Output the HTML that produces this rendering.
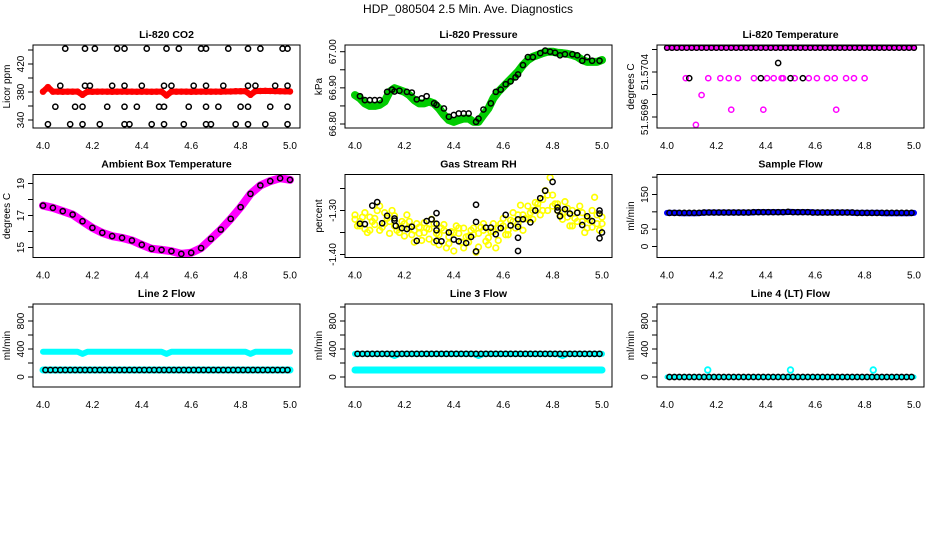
<!DOCTYPE html>
<html><head><meta charset="utf-8"><style>
html,body{margin:0;padding:0;background:#fff;}
svg{display:block;font-family:"Liberation Sans",Arial,sans-serif;}
</style></head><body>
<svg id="fig" width="936" height="540" viewBox="0 0 936 540" xmlns="http://www.w3.org/2000/svg">
<rect width="936" height="540" fill="#fff"/>
<text x="468" y="13" text-anchor="middle" font-size="12">HDP_080504  2.5 Min. Ave. Diagnostics</text>
</svg>
<script>
// ---------- data ----------
const tDense = [4.00,4.02,4.04,4.06,4.08,4.10,4.12,4.14,4.16,4.18,4.20,4.22,4.24,4.26,4.28,4.30,4.32,4.34,4.36,4.38,4.40,4.42,4.44,4.46,4.48,4.50,4.52,4.54,4.56,4.58,4.60,4.62,4.64,4.66,4.68,4.70,4.72,4.74,4.76,4.78,4.80,4.82,4.84,4.86,4.88,4.90,4.92,4.94,4.96,4.98,5.00];
const tDenseB = [4.01,4.03,4.05,4.07,4.09,4.11,4.13,4.15,4.17,4.19,4.21,4.23,4.25,4.27,4.29,4.31,4.33,4.35,4.37,4.39,4.41,4.43,4.45,4.47,4.49,4.51,4.53,4.55,4.57,4.59,4.61,4.63,4.65,4.67,4.69,4.71,4.73,4.75,4.77,4.79,4.81,4.83,4.85,4.87,4.89,4.91,4.93,4.95,4.97,4.99];
const xTickLabels = ["4.0","4.2","4.4","4.6","4.8","5.0"];

// CO2
const co2Red = [380.5,387,380.5,380.6,380.4,380.5,380.5,380.6,376,380.5,380.4,380.5,380.6,380.5,380.4,380.5,380.6,380.5,380.5,380.4,380.5,380.5,380.4,380.5,380.6,375,380.5,380.5,380.6,380.5,380.4,380.5,380.6,380.5,380.5,380.6,380.5,380.7,380.8,381,381,381.2,376,381.3,381.5,381.6,381.5,381.3,381.1,380.9,380.8];
const co2BlackX = [4.09,4.17,4.21,4.30,4.33,4.42,4.50,4.55,4.64,4.66,4.75,4.83,4.88,4.97,4.99, 4.07,4.17,4.19,4.28,4.33,4.40,4.49,4.52,4.61,4.66,4.73,4.83,4.86,4.94,4.99, 4.05,4.13,4.16,4.26,4.33,4.38,4.47,4.49,4.59,4.66,4.71,4.80,4.83,4.92,4.99, 4.02,4.11,4.16,4.23,4.33,4.35,4.44,4.49,4.57,4.66,4.68,4.78,4.83,4.90,4.99];
const co2BlackY = [442,442,442,442,442,442,442,442,442,442,442,442,442,442,442, 389,389,389,389,389,389,389,389,389,389,389,389,389,389,389, 359,359,359,359,359,359,359,359,359,359,359,359,359,359,359, 334,334,334,334,334,334,334,334,334,334,334,334,334,334,334];
const co2Ticks = [340,360,380,400,420,440];
const co2Labels = ["340","","380","","420",""];

// Pressure
const presGreen = [66.880,66.871,66.857,66.850,66.850,66.853,66.862,66.889,66.899,66.894,66.889,66.880,66.866,66.857,66.857,66.862,66.857,66.843,66.825,66.811,66.806,66.811,66.815,66.815,66.806,66.806,66.825,66.843,66.871,66.889,66.903,66.917,66.931,66.945,66.963,66.977,66.986,66.991,66.996,67.000,67.000,66.997,66.996,66.994,66.991,66.986,66.977,66.972,66.972,66.972,66.977];
const presBlackX = [4.02,4.04,4.06,4.08,4.10,4.13,4.15,4.16,4.18,4.21,4.23,4.25,4.27,4.29,4.32,4.33,4.36,4.38,4.40,4.42,4.44,4.46,4.49,4.50,4.52,4.55,4.57,4.59,4.61,4.63,4.65,4.66,4.68,4.70,4.72,4.75,4.77,4.79,4.81,4.83,4.85,4.88,4.90,4.92,4.94,4.96,4.99];
const presBlackY = [66.877,66.866,66.866,66.866,66.866,66.889,66.895,66.890,66.892,66.889,66.887,66.868,66.871,66.877,66.857,66.853,66.843,66.820,66.825,66.829,66.829,66.829,66.806,66.815,66.840,66.857,66.889,66.895,66.910,66.918,66.929,66.937,66.963,66.985,66.985,66.996,67.003,67.000,66.997,66.990,66.993,66.993,66.990,66.975,66.985,66.975,66.975];
const presTicks = [66.80,66.85,66.90,66.95,67.00];
const presLabels = ["66.80","","66.90","","67.00"];

// Li-820 temperature
const tempTopX = [4.00,4.02,4.04,4.06,4.08,4.10,4.12,4.14,4.16,4.18,4.20,4.22,4.24,4.26,4.28,4.30,4.32,4.34,4.36,4.38,4.40,4.42,4.44,4.46,4.48,4.50,4.52,4.54,4.56,4.58,4.60,4.62,4.64,4.66,4.68,4.70,4.72,4.74,4.76,4.78,4.80,4.82,4.84,4.86,4.88,4.90,4.92,4.94,4.96,4.98,5.00];
const tempTopY = [51.57083,51.57083,51.57083,51.57083,51.57083,51.57083,51.57083,51.57083,51.57083,51.57083,51.57083,51.57083,51.57083,51.57083,51.57083,51.57083,51.57083,51.57083,51.57083,51.57083,51.57083,51.57083,51.57083,51.57083,51.57083,51.57083,51.57083,51.57083,51.57083,51.57083,51.57083,51.57083,51.57083,51.57083,51.57083,51.57083,51.57083,51.57083,51.57083,51.57083,51.57083,51.57083,51.57083,51.57083,51.57083,51.57083,51.57083,51.57083,51.57083,51.57083,51.57083];
const tempMagX = [4.076,4.167,4.216,4.25,4.287,4.352,4.405,4.432,4.464,4.47,4.517,4.574,4.607,4.648,4.679,4.725,4.757,4.80, 4.14, 4.26,4.39,4.685, 4.117];
const tempMagY = [51.57029,51.57029,51.57029,51.57029,51.57029,51.57029,51.57029,51.57029,51.57029,51.57029,51.57029,51.57029,51.57029,51.57029,51.57029,51.57029,51.57029,51.57029, 51.56999, 51.56973,51.56973,51.56973, 51.56946];
const tempBlackX = [4.09,4.38,4.50,4.55,4.45];
const tempBlackY = [51.57029,51.57029,51.57029,51.57029,51.57056];
const tempTicks = [51.5696,51.5700,51.5704,51.5708];
const tempLabels = ["51.5696","","51.5704",""];

// Ambient box temperature
const ambX = [4.00,4.04,4.08,4.12,4.16,4.20,4.24,4.28,4.32,4.36,4.40,4.44,4.48,4.52,4.56,4.60,4.64,4.68,4.72,4.76,4.80,4.84,4.88,4.92,4.96,5.00];
const ambY = [17.62,17.48,17.27,17.06,16.64,16.23,15.92,15.71,15.60,15.44,15.17,14.92,14.85,14.77,14.60,14.67,14.96,15.54,16.12,16.79,17.52,18.35,18.88,19.15,19.33,19.23];
const ambTicks = [15,16,17,18,19];
const ambLabels = ["15","","17","","19"];

// Gas stream RH
const rhA = [-1.320,-1.335,-1.305,-1.345,-1.318,-1.290,-1.330,-1.352,-1.312,-1.340,-1.358,-1.325,-1.372,-1.338,-1.350,-1.365,-1.330,-1.378,-1.345,-1.360,-1.392,-1.352,-1.340,-1.372,-1.355,-1.383,-1.345,-1.362,-1.330,-1.368,-1.318,-1.345,-1.305,-1.330,-1.310,-1.290,-1.320,-1.295,-1.275,-1.300,-1.265,-1.300,-1.320,-1.295,-1.335,-1.305,-1.325,-1.340,-1.300,-1.330,-1.315];
const rhB = [-1.335,-1.315,-1.350,-1.325,-1.300,-1.338,-1.318,-1.300,-1.345,-1.325,-1.310,-1.355,-1.330,-1.368,-1.340,-1.320,-1.352,-1.340,-1.385,-1.348,-1.335,-1.372,-1.360,-1.345,-1.395,-1.338,-1.370,-1.348,-1.385,-1.330,-1.355,-1.322,-1.340,-1.288,-1.318,-1.305,-1.282,-1.310,-1.255,-1.225,-1.285,-1.310,-1.280,-1.335,-1.318,-1.290,-1.350,-1.322,-1.270,-1.345];
const rhC = [-1.310,-1.325,-1.342,-1.315,-1.332,-1.345,-1.305,-1.325,-1.335,-1.350,-1.330,-1.340,-1.345,-1.352,-1.328,-1.342,-1.372,-1.355,-1.332,-1.375,-1.350,-1.340,-1.385,-1.358,-1.340,-1.352,-1.330,-1.378,-1.348,-1.340,-1.335,-1.355,-1.325,-1.310,-1.345,-1.320,-1.300,-1.285,-1.300,-1.265,-1.290,-1.285,-1.305,-1.315,-1.300,-1.325,-1.305,-1.318,-1.338,-1.310,-1.330];
const rhBlackX = [4.02,4.04,4.07,4.09,4.11,4.13,4.16,4.16,4.165,4.19,4.21,4.23,4.25,4.29,4.31,4.33,4.33,4.33,4.33,4.35,4.38,4.40,4.42,4.45,4.47,4.49,4.49,4.49,4.53,4.55,4.57,4.59,4.61,4.63,4.66,4.66,4.66,4.66,4.68,4.71,4.73,4.75,4.77,4.80,4.82,4.82,4.83,4.85,4.87,4.90,4.92,4.94,4.96,4.99,4.99,5.00,4.99];
const rhBlackY = [-1.330,-1.331,-1.289,-1.281,-1.329,-1.312,-1.318,-1.323,-1.335,-1.340,-1.342,-1.337,-1.369,-1.324,-1.320,-1.306,-1.330,-1.345,-1.369,-1.370,-1.350,-1.366,-1.370,-1.374,-1.360,-1.287,-1.326,-1.393,-1.339,-1.339,-1.354,-1.340,-1.310,-1.334,-1.320,-1.337,-1.362,-1.392,-1.320,-1.327,-1.300,-1.272,-1.255,-1.235,-1.293,-1.300,-1.313,-1.297,-1.307,-1.305,-1.333,-1.313,-1.324,-1.300,-1.307,-1.350,-1.363];
const rhTicks = [-1.40,-1.35,-1.30,-1.25];
const rhLabels = ["-1.40","","-1.30",""];

// Sample flow
const sfBlue = [97,97,97,96,96,96,96,97,98,98,98,98,98,98,98,98,98,98,99,99,99,99,99,99,99,100,99,99,99,99,98,98,98,98,98,98,98,98,97,97,97,97,97,97,96,96,96,96,96,96,97];
const sfBlack = [97,97,97,97,97,97,97,98,98,98,98,98,98,98,98,98,98,99,99,99,99,99,99,99,100,99,99,99,99,98,98,98,98,98,98,98,98,98,97,97,97,97,97,97,97,97,97,97,97,97];
const sfTicks = [0,50,100,150,200];
const sfLabels = ["0","50","","150",""];

// Flow lines
const l2Upper = [360,360,360,360,360,360,360,360,330,360,360,360,360,360,360,360,360,360,360,360,360,360,360,360,360,330,360,360,360,360,360,360,360,360,360,360,360,360,360,360,360,360,330,360,360,360,360,360,360,360,360];
const l2Lower = [100,100,100,100,100,100,100,100,100,100,100,100,100,100,100,100,100,100,100,100,100,100,100,100,100,100,100,100,100,100,100,100,100,100,100,100,100,100,100,100,100,100,100,100,100,100,100,100,100,100,100];
const l2Black = [100,100,100,100,100,100,100,100,100,100,100,100,100,100,100,100,100,100,100,100,100,100,100,100,100,100,100,100,100,100,100,100,100,100,100,100,100,100,100,100,100,100,100,100,100,100,100,100,100,100];
const l3Upper = [330,330,330,330,330,330,330,330,300,330,330,330,330,330,330,330,330,330,330,330,330,330,330,330,330,300,330,330,330,330,330,330,330,330,330,330,330,330,330,330,330,330,300,330,330,330,330,330,330,330,330];
const l3Lower = [100,100,100,100,100,100,100,100,100,100,100,100,100,100,100,100,100,100,100,100,100,100,100,100,100,100,100,100,100,100,100,100,100,100,100,100,100,100,100,100,100,100,100,100,100,100,100,100,100,100,100];
const l3Black = [330,330,330,330,330,330,330,330,330,330,330,330,330,330,330,330,330,330,330,330,330,330,330,330,330,330,330,330,330,330,330,330,330,330,330,330,330,330,330,330,330,330,330,330,330,330,330,330,330,330];
const l4Cyan = [0,0,0,0,0,0,0,0,0,0,0,0,0,0,0,0,0,0,0,0,0,0,0,0,0,0,0,0,0,0,0,0,0,0,0,0,0,0,0,0,0,0,0,0,0,0,0,0,0,0,0];
const l4SpikeX = [4.165,4.50,4.835];
const l4SpikeY = [100,100,100];
const l4Black = [0,0,0,0,0,0,0,0,0,0,0,0,0,0,0,0,0,0,0,0,0,0,0,0,0,0,0,0,0,0,0,0,0,0,0,0,0,0,0,0,0,0,0,0,0,0,0,0,0,0];
const flowTicks = [0,200,400,600,800,1000];
const flowLabels = ["0","","400","","800",""];

// ---------- drawing ----------
const NS = "http://www.w3.org/2000/svg";
const svg = document.getElementById('fig');
function mk(tag, parent){ const e = document.createElementNS(NS, tag); parent.appendChild(e); return e; }

function panel(name, col, row, title, ylabel, yRefA, yRefB, ticks, labels){
  const x0 = 33 + col*312, x1 = x0 + 267;
  const y0 = 45 + row*129.5, y1 = y0 + 83;
  const g = mk('g', svg);
  
  
  const xs = v => (x0 + 10) + (v - 4) * (x1 - x0 - 20);
  const ys = v => yRefA[1] + (v - yRefA[0]) * (yRefB[1] - yRefA[1]) / (yRefB[0] - yRefA[0]);
  const marks = mk('g', g);
  
  
  const box = mk('rect', g);
  
  
  box.setAttribute('x', x0); box.setAttribute('y', y0);
  box.setAttribute('width', x1 - x0); box.setAttribute('height', y1 - y0);
  box.setAttribute('fill', 'none'); box.setAttribute('stroke', '#000'); box.setAttribute('stroke-width', '1');
  const t = mk('text', g);
  
  
  t.setAttribute('x', (x0 + x1) / 2); t.setAttribute('y', y0 - 7);
  t.setAttribute('text-anchor', 'middle'); t.setAttribute('font-size', '10.5'); t.setAttribute('font-weight', 'bold');
  t.textContent = title;
  const yl = mk('text', g);
  
  
  const ylx = x0 - 23, yly = (y0 + y1) / 2;
  yl.setAttribute('transform', `translate(${ylx},${yly}) rotate(-90)`);
  yl.setAttribute('text-anchor', 'middle'); yl.setAttribute('font-size', '10');
  yl.textContent = ylabel;
  const xa = mk('g', g);
  
  
  xTickLabels.forEach(s => {
    const tx = mk('text', xa);
    
    
    tx.setAttribute('x', xs(parseFloat(s))); tx.setAttribute('y', y1 + 21);
    tx.setAttribute('text-anchor', 'middle'); tx.setAttribute('font-size', '10');
    tx.textContent = s;
  });
  const ya = mk('g', g);
  
  
  ticks.forEach((v, i) => {
    const py = ys(v);
    const tk = mk('line', ya);
    
    
    tk.setAttribute('x1', x0 - 5); tk.setAttribute('x2', x0); tk.setAttribute('y1', py); tk.setAttribute('y2', py);
    tk.setAttribute('stroke', '#000');
    if (labels[i]) {
      const tl = mk('text', ya);
      
      
      tl.setAttribute('transform', `translate(${x0 - 9},${py}) rotate(-90)`);
      tl.setAttribute('text-anchor', 'middle'); tl.setAttribute('font-size', '10');
      tl.textContent = labels[i];
    }
  });
  const clipId = 'clip-' + name;
  const cp = mk('clipPath', g); cp.setAttribute('id', clipId);
  const cr = mk('rect', cp);
  cr.setAttribute('x', x0); cr.setAttribute('y', y0); cr.setAttribute('width', x1 - x0); cr.setAttribute('height', y1 - y0);
  marks.setAttribute('clip-path', `url(#${clipId})`);
  return {
    pts(xArr, yArr, color, r, sw, pname){
      const sg = mk('g', marks);
      
      
      yArr.forEach((v, i) => {
        const c = mk('circle', sg);
        
        
        c.setAttribute('cx', xs(xArr[i])); c.setAttribute('cy', ys(v)); c.setAttribute('r', r);
        c.setAttribute('fill', 'none'); c.setAttribute('stroke', color); c.setAttribute('stroke-width', sw);
      });
    },
    band(xArr, yArr, color, w, pname){
      const p = mk('polyline', marks);
      
      
      p.setAttribute('points', yArr.map((v, i) => xs(xArr[i]) + ',' + ys(v)).join(' '));
      p.setAttribute('fill', 'none'); p.setAttribute('stroke', color); p.setAttribute('stroke-width', w);
      p.setAttribute('stroke-linejoin', 'round'); p.setAttribute('stroke-linecap', 'round');
    }
  };
}

const K = '#000', R = '#ff0000', G = '#00cc00', M = '#ff00ff', Y = '#ffff00', B = '#0000ff', C = '#00ffff';

let p = panel('co2', 0, 0, 'Li-820 CO2', 'Licor ppm', [340,120], [420,64], co2Ticks, co2Labels);
p.band(tDense, co2Red, R, 6, 'co2-red-band');
p.pts(tDense, co2Red, R, 2.5, 1.5, 'co2-red-series');
p.pts(co2BlackX, co2BlackY, K, 2.6, 1.5, 'co2-black-series');

p = panel('pressure', 1, 0, 'Li-820 Pressure', 'kPa', [66.80,124], [67.00,51.7], presTicks, presLabels);
p.band(tDense, presGreen, G, 8, 'pressure-green-band');
p.pts(tDense, presGreen, G, 2.5, 1.5, 'pressure-green-series');
p.pts(presBlackX, presBlackY, K, 2.6, 1.5, 'pressure-black-series');

p = panel('li820-temp', 2, 0, 'Li-820 Temperature', 'degrees C', [51.5696,117], [51.5704,72], tempTicks, tempLabels);
p.band(tempTopX, tempTopY, M, 5, 'temp-magenta-top-band');
p.pts(tempTopX, tempTopY, K, 2.5, 1.4, 'temp-black-top-series');
p.pts(tempMagX, tempMagY, M, 2.6, 1.5, 'temp-magenta-series');
p.pts(tempBlackX, tempBlackY, K, 2.6, 1.5, 'temp-black-series');

p = panel('ambient-temp', 0, 1, 'Ambient Box Temperature', 'degrees C', [15,247.5], [19,183.5], ambTicks, ambLabels);
p.band(ambX, ambY, M, 8, 'ambient-magenta-band');
p.pts(ambX, ambY, K, 2.6, 1.5, 'ambient-black-series');

p = panel('rh', 1, 1, 'Gas Stream RH', 'percent', [-1.40,254.5], [-1.30,210.5], rhTicks, rhLabels);
p.pts(tDense, rhA, Y, 2.8, 1.7, 'rh-yellow-series-a');
p.pts(tDenseB, rhB, Y, 2.8, 1.7, 'rh-yellow-series-b');
p.pts(tDense, rhC, Y, 2.8, 1.7, 'rh-yellow-series-c');
p.pts(rhBlackX, rhBlackY, K, 2.6, 1.5, 'rh-black-series');

p = panel('sample-flow', 2, 1, 'Sample Flow', 'ml/min', [0,246.5], [150,194.5], sfTicks, sfLabels);
p.band(tDense, sfBlue, B, 6, 'sample-flow-blue-band');
p.pts(tDenseB, sfBlack, K, 2.6, 1.5, 'sample-flow-black-series');

p = panel('line2-flow', 0, 2, 'Line 2 Flow', 'ml/min', [0,377], [800,321], flowTicks, flowLabels);
p.band(tDense, l2Upper, C, 6, 'line2-cyan-upper');
p.band(tDense, l2Lower, C, 7, 'line2-cyan-lower');
p.pts(tDenseB, l2Black, K, 2.6, 1.5, 'line2-black-series');

p = panel('line3-flow', 1, 2, 'Line 3 Flow', 'ml/min', [0,377], [800,321], flowTicks, flowLabels);
p.band(tDense, l3Upper, C, 6, 'line3-cyan-upper');
p.band(tDense, l3Lower, C, 7, 'line3-cyan-lower');
p.pts(tDenseB, l3Black, K, 2.6, 1.5, 'line3-black-series');

p = panel('line4-flow', 2, 2, 'Line 4 (LT) Flow', 'ml/min', [0,377], [800,321], flowTicks, flowLabels);
p.band(tDense, l4Cyan, C, 5, 'line4-cyan-band');
p.pts(tDenseB, l4Black, K, 2.6, 1.5, 'line4-black-series');
p.pts(l4SpikeX, l4SpikeY, C, 2.8, 1.8, 'line4-cyan-spikes');
</script>
</body></html>
